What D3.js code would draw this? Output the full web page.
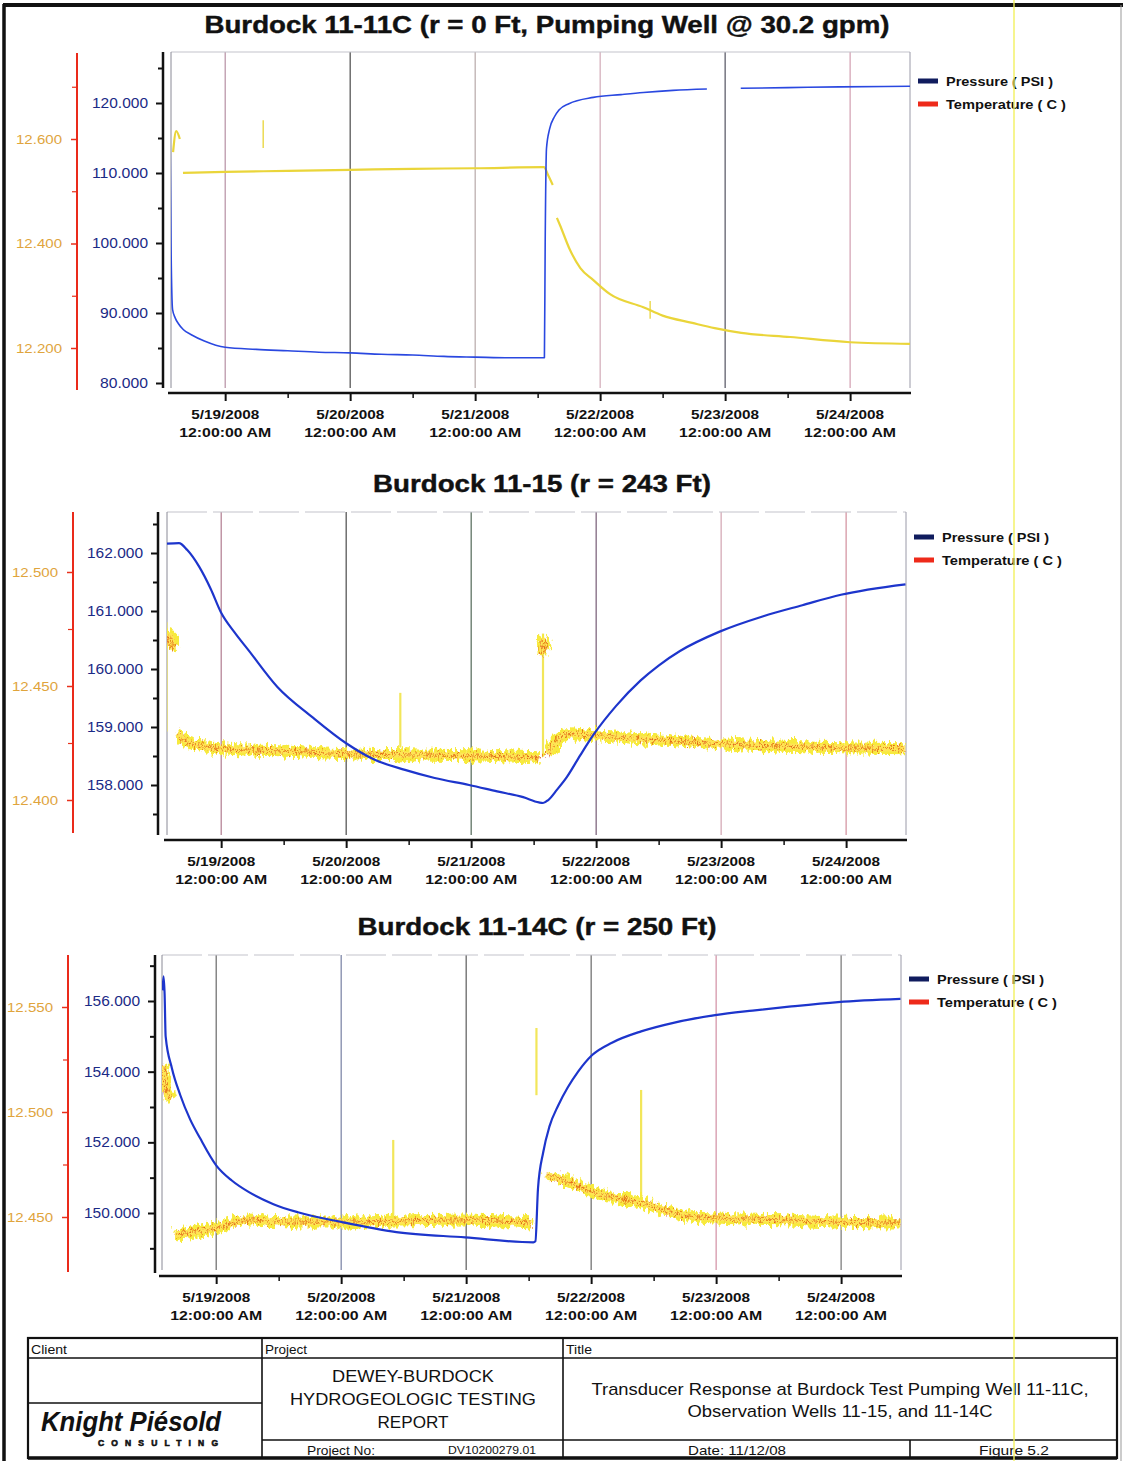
<!DOCTYPE html>
<html><head><meta charset="utf-8">
<script src="https://cdn.jsdelivr.net/npm/d3@7"></script>
<style>
html,body{margin:0;padding:0;background:#fff;}
svg{display:block;}
text{font-family:"Liberation Sans",Arial,Helvetica,sans-serif;}
</style></head><body>
<svg id="c" width="1123" height="1461"></svg>
<script>
// ---------------- DATA ----------------
// time is in hours after 5/18/2008 12:00:00 AM
const chartTitles = [
  "Burdock 11-11C (r = 0 Ft, Pumping Well @ 30.2 gpm)",
  "Burdock 11-15 (r = 243 Ft)",
  "Burdock 11-14C (r = 250 Ft)"
];
const legendLabels = ["Pressure ( PSI )", "Temperature ( C )"];
const dateLabels = ["5/19/2008","5/20/2008","5/21/2008","5/22/2008","5/23/2008","5/24/2008"];
const timeLabel = "12:00:00 AM";
const timeDomainHours = [13.6, 155.5];

// Chart 1: Burdock 11-11C
const pTicks1 = [80, 90, 100, 110, 120];
const pMinor1 = [85, 95, 105, 115, 125];
const tTicks1 = [12.2, 12.4, 12.6];
const tMinor1 = [12.3, 12.5, 12.7];
const pressure1 = [[13.3,127.5],[13.6,100.0],[13.9,90.5],[14.4,89.3],[15.0,88.5],[16.0,87.6],[17.5,86.9],[20.0,86.0],[24,85.1],[30,84.8],[36,84.6],[42,84.4],[48,84.3],[54,84.1],[60,84.0],[66,83.8],[72,83.7],[79,83.6],[85.3,83.6],[85.45,100],[85.7,113.5],[86.3,116.3],[87.2,118.0],[88.1,119.0],[90,119.9],[94.7,120.8],[100,121.2],[104.3,121.5],[110,121.8],[116.5,122.0],[117,null],[123,122.1],[132,122.2],[142,122.3],[155.5,122.4]];
const temperature1 = [[14.0,12.575],[14.6,12.615],[15.3,12.600],[15.4,null],[15.9,12.535],[24,12.537],[36,12.539],[48,12.541],[60,12.543],[72,12.544],[85.2,12.546],[86.0,12.531],[86.9,12.512],[87.2,null],[87.7,12.449],[88.3,12.435],[90.2,12.388],[92.2,12.353],[94.7,12.330],[97.9,12.303],[104.3,12.278],[108,12.262],[113.7,12.248],[118,12.238],[123.1,12.229],[132.5,12.221],[144,12.211],[155.5,12.208]];
const spikes1 = [[31.3,12.583,12.636],[105.6,12.256,12.290]];

// Chart 2: Burdock 11-15
const pTicks2 = [158, 159, 160, 161, 162];
const pMinor2 = [157.5, 158.5, 159.5, 160.5, 161.5, 162.5];
const tTicks2 = [12.40, 12.45, 12.50];
const tMinor2 = [12.425, 12.475];
const pressure2 = [[13.6,162.16],[15.9,162.17],[17.5,162.05],[19.8,161.76],[22,161.38],[24,160.97],[26.5,160.64],[29.2,160.33],[34.8,159.69],[41.5,159.17],[48,158.72],[53.6,158.43],[59.3,158.26],[65,158.12],[71.6,158.0],[77,157.89],[82,157.79],[85.0,157.70],[85.8,157.69],[86.8,157.74],[88.5,157.92],[90.4,158.14],[93,158.52],[95.6,158.88],[99.8,159.36],[104.5,159.80],[108,160.06],[112.1,160.31],[119.6,160.64],[128.1,160.91],[135.6,161.10],[143,161.28],[155.4,161.46]];
const temperature2 = [[13.7,12.468],[14.2,12.472],[14.7,12.466],[15.0,null],[15.6,12.4291],[17.5,12.4255],[19.8,12.4238],[24,12.4225],[36,12.4215],[48,12.4203],[60,12.4198],[72,12.4194],[85.0,12.4185],[85.3,null],[85.6,12.464],[85.9,12.470],[86.2,12.466],[86.4,null],[86.8,12.4200],[87.1,12.4216],[88.5,12.4260],[90.4,12.4291],[96,12.4282],[104.5,12.4269],[119.5,12.4247],[143,12.4229],[155.4,12.4225]];
const spikes2 = [[85.8,12.419,12.473],[58.4,12.423,12.447],[13.5,12.430,12.478]];

// Chart 3: Burdock 11-14C
const pTicks3 = [150, 152, 154, 156];
const pMinor3 = [149, 151, 153, 155, 157];
const tTicks3 = [12.45, 12.50, 12.55];
const tMinor3 = [12.475, 12.525];
const pressure3 = [[13.7,156.3],[13.9,156.7],[14.1,156.2],[14.3,155.0],[15.5,154.1],[17.1,153.34],[19,152.65],[20.9,152.12],[24,151.35],[27,150.92],[30.3,150.59],[35,150.25],[39.7,150.02],[48.2,149.74],[58.6,149.46],[71.8,149.31],[84.9,149.17],[85.3,149.2],[85.8,150.70],[86.8,151.72],[88,152.45],[89.7,153.05],[91.5,153.55],[93.5,154.00],[96.2,154.47],[100,154.82],[105.6,155.14],[112,155.39],[119.8,155.60],[127,155.73],[134,155.84],[143.4,155.97],[155.4,156.06]];
const temperature3 = [[13.7,12.522],[14.3,12.512],[15.0,12.506],[15.3,null],[16.1,12.4414],[20,12.4430],[24,12.4448],[30.3,12.4486],[35,12.4478],[39.7,12.4476],[49.2,12.4476],[58.6,12.4481],[71.8,12.4486],[84.5,12.4471],[84.9,null],[87.4,12.470],[91.6,12.4667],[96.2,12.4619],[105.6,12.4567],[113.3,12.4510],[119.8,12.4495],[134,12.4486],[143.4,12.4476],[155.4,12.4471]];
const spikes3 = [[58.0,12.4467,12.4867],[105.6,12.4557,12.5105],[85.5,12.508,12.540]];

// title block text
const blockHeaders = ["Client", "Project", "Title"];
const projectLines = ["DEWEY-BURDOCK", "HYDROGEOLOGIC TESTING", "REPORT"];
const titleLines = ["Transducer Response at Burdock Test Pumping Well 11-11C,", "Observation Wells 11-15, and 11-14C"];
const projectNo = ["Project No:", "DV10200279.01"];
const dateText = "Date: 11/12/08";
const figureText = "Figure 5.2";

// ---------------- LAYOUT / STYLE ----------------
const layout = [
  {top:52, bottom:388, left:171, right:910, axisY:393, pAxisX:163, tAxisX:77, pPix:[383,103], tPix:[348,139],
   axTop:52, axBot:388, taxTop:53, taxBot:390, titleY:33, titleX:547, titleW:685, legendY:81, noisy:false,
   grid:["#a87890","#262626","#a89898","#c898a8","#303040","#c88aa0"]},
  {top:512, bottom:835, left:167, right:906, axisY:840, pAxisX:158, tAxisX:73, pPix:[785,553], tPix:[800,572],
   axTop:512, axBot:835, taxTop:512, taxBot:833, titleY:492, titleX:542, titleW:338, legendY:537, noisy:true,
   grid:["#a06078","#262626","#2f4a36","#5a3a58","#c890a0","#c87888"]},
  {top:955, bottom:1270, left:162, right:901, axisY:1276, pAxisX:155, tAxisX:68, pPix:[1213,1001], tPix:[1217,1007],
   axTop:955, axBot:1273, taxTop:955, taxBot:1272, titleY:935, titleX:537, titleW:359, legendY:979, noisy:true,
   grid:["#4a4a4a","#5a6690","#3a3a3a","#4a4a4a","#c87890","#585858"]}
];
const data = [
  {p:pressure1, t:temperature1, s:spikes1, pT:pTicks1, pM:pMinor1, tT:tTicks1, tM:tMinor1},
  {p:pressure2, t:temperature2, s:spikes2, pT:pTicks2, pM:pMinor2, tT:tTicks2, tM:tMinor2},
  {p:pressure3, t:temperature3, s:spikes3, pT:pTicks3, pM:pMinor3, tT:tTicks3, tM:tMinor3}
];

const base = new Date(2008, 4, 18, 0, 0, 0);
const toDate = h => new Date(base.getTime() + h * 3600000);

const svg = d3.select("#c");
svg.append("rect").attr("width",1123).attr("height",1461).attr("fill","#fff");

const defs = svg.append("defs");
function noiseFilter(id, freq, seed, scale){
  const f = defs.append("filter").attr("id", id).attr("filterUnits","userSpaceOnUse")
    .attr("x",0).attr("y",0).attr("width",1123).attr("height",1461);
  f.append("feTurbulence").attr("type","fractalNoise").attr("baseFrequency",freq)
    .attr("numOctaves",2).attr("seed",seed).attr("result","n");
  f.append("feDisplacementMap").attr("in","SourceGraphic").attr("in2","n")
    .attr("scale",scale).attr("xChannelSelector","R").attr("yChannelSelector","G");
}
noiseFilter("nzY", "0.35 0.09", 3, 14);
noiseFilter("nzO", "0.55 0.12", 7, 18);
noiseFilter("nzR", "0.6 0.15", 11, 16);

// page frame
svg.append("line").attr("x1",4).attr("x2",4).attr("y1",4).attr("y2",1461).attr("stroke","#111").attr("stroke-width",3.5);
svg.append("line").attr("x1",3).attr("x2",1123).attr("y1",5).attr("y2",5).attr("stroke","#111").attr("stroke-width",4);
svg.append("line").attr("x1",1121).attr("x2",1121).attr("y1",5).attr("y2",1461).attr("stroke","#999").attr("stroke-width",1);

const fmt3 = d3.format(".3f");

layout.forEach((L, i) => {
  const D = data[i];
  const g = svg.append("g");
  const x = d3.scaleTime().domain(timeDomainHours.map(toDate)).range([L.left, L.right]);
  const yP = d3.scaleLinear().domain([D.pT[0], D.pT[D.pT.length-1]]).range(L.pPix);
  const yT = d3.scaleLinear().domain([D.tT[0], D.tT[D.tT.length-1]]).range(L.tPix);

  // title
  g.append("text").attr("x", L.titleX).attr("y", L.titleY).attr("text-anchor","middle")
    .attr("font-size",23).attr("font-weight","bold").attr("fill","#111")
    .attr("stroke","#111").attr("stroke-width",0.4)
    .attr("textLength", L.titleW).attr("lengthAdjust","spacingAndGlyphs").text(chartTitles[i]);

  // clip
  const cid = "clip" + i;
  defs.append("clipPath").attr("id", cid).append("rect")
    .attr("x", L.left).attr("y", L.top).attr("width", L.right - L.left).attr("height", L.bottom - L.top);

  // grid lines (day boundaries)
  const days = d3.timeDay.range(x.domain()[0], x.domain()[1]).filter(d => d > x.domain()[0]);
  g.selectAll(".grid").data(days).join("line")
    .attr("x1", d => x(d)).attr("x2", d => x(d)).attr("y1", L.top).attr("y2", L.bottom)
    .attr("stroke", (d, k) => L.grid[k % L.grid.length]).attr("stroke-width", 1);

  // frame
  g.append("line").attr("x1",L.left).attr("x2",L.right).attr("y1",L.top).attr("y2",L.top)
    .attr("stroke","#c4c4cc").attr("stroke-width",1.2).attr("stroke-dasharray", L.noisy ? "40 6" : null);
  g.append("line").attr("x1",L.right).attr("x2",L.right).attr("y1",L.top).attr("y2",L.bottom)
    .attr("stroke","#9a9aa8").attr("stroke-width",1);
  g.append("line").attr("x1",L.left).attr("x2",L.left).attr("y1",L.top).attr("y2",L.bottom)
    .attr("stroke","#8a8a96").attr("stroke-width",1);

  const plot = g.append("g").attr("clip-path", `url(#${cid})`);
  const lineT = d3.line().defined(d => d[1] != null).x(d => x(toDate(d[0]))).y(d => yT(d[1])).curve(d3.curveMonotoneX);
  const lineP = d3.line().defined(d => d[1] != null).x(d => x(toDate(d[0]))).y(d => yP(d[1])).curve(d3.curveMonotoneX);

  // spikes (short transient temperature readings)
  plot.selectAll(".spk").data(D.s).join("line")
    .attr("x1", d => x(toDate(d[0]))).attr("x2", d => x(toDate(d[0])))
    .attr("y1", d => yT(d[1])).attr("y2", d => yT(d[2]))
    .attr("stroke", L.noisy ? "#f2e65a" : "#e8d438").attr("stroke-width", L.noisy ? 2.2 : 1.3);

  // temperature
  if (L.noisy) {
    plot.append("path").datum(D.t).attr("d", lineT).attr("fill","none")
      .attr("stroke","#f7ea3c").attr("stroke-width",11).attr("stroke-linejoin","round").attr("filter","url(#nzY)");
    plot.append("path").datum(D.t).attr("d", lineT).attr("fill","none")
      .attr("stroke","#ffe35a").attr("stroke-width",6).attr("opacity",0.8);
    plot.append("path").datum(D.t).attr("d", lineT).attr("fill","none")
      .attr("stroke","#e98a1e").attr("stroke-width",1.3).attr("filter","url(#nzO)");
    plot.append("path").datum(D.t).attr("d", lineT).attr("fill","none")
      .attr("stroke","#d8361a").attr("stroke-width",0.9).attr("opacity",0.55).attr("filter","url(#nzR)");
  } else {
    plot.append("path").datum(D.t).attr("d", lineT).attr("fill","none")
      .attr("stroke","#ead53a").attr("stroke-width",2.2);
  }

  // pressure
  plot.append("path").datum(D.p).attr("d", lineP).attr("fill","none")
    .attr("stroke", L.noisy ? "#1d35cc" : "#2a48e0").attr("stroke-width", L.noisy ? 2.2 : 1.6)
    .attr("stroke-linejoin","round");

  // pressure axis
  const pa = g.append("g").attr("transform", `translate(${L.pAxisX},0)`);
  pa.call(d3.axisLeft(yP).tickValues(D.pT).tickFormat(fmt3).tickSize(7).tickPadding(8).tickSizeOuter(0));
  pa.select(".domain").remove();
  pa.selectAll(".tick line").attr("stroke","#111").attr("stroke-width",2);
  pa.selectAll(".tick text").attr("fill","#1b2a86").attr("font-size",14)
    .attr("font-family","'Liberation Sans',Arial,sans-serif")
    .attr("textLength", d => fmt3(d).length > 6 ? 56 : 48).attr("lengthAdjust","spacingAndGlyphs");
  const pm = g.append("g").attr("transform", `translate(${L.pAxisX},0)`);
  pm.call(d3.axisLeft(yP).tickValues(D.pM.filter(v => yP(v) >= L.axTop && yP(v) <= L.axBot)).tickFormat("").tickSize(5).tickSizeOuter(0));
  pm.select(".domain").remove();
  pm.selectAll(".tick line").attr("stroke","#111").attr("stroke-width",2);
  g.append("line").attr("x1",L.pAxisX).attr("x2",L.pAxisX).attr("y1",L.axTop).attr("y2",L.axBot)
    .attr("stroke","#111").attr("stroke-width",2.5);

  // temperature axis
  const ta = g.append("g").attr("transform", `translate(${L.tAxisX},0)`);
  ta.call(d3.axisLeft(yT).tickValues(D.tT).tickFormat(fmt3).tickSize(6).tickPadding(9).tickSizeOuter(0));
  ta.select(".domain").remove();
  ta.selectAll(".tick line").attr("stroke","#e8321c").attr("stroke-width",1.5);
  ta.selectAll(".tick text").attr("fill","#e0a43c").attr("font-size",13)
    .attr("font-family","'Liberation Sans',Arial,sans-serif")
    .attr("textLength", 46).attr("lengthAdjust","spacingAndGlyphs");
  const tm = g.append("g").attr("transform", `translate(${L.tAxisX},0)`);
  tm.call(d3.axisLeft(yT).tickValues(D.tM.filter(v => yT(v) >= L.taxTop && yT(v) <= L.taxBot)).tickFormat("").tickSize(5).tickSizeOuter(0));
  tm.select(".domain").remove();
  tm.selectAll(".tick line").attr("stroke","#e8321c").attr("stroke-width",1.2);
  g.append("line").attr("x1",L.tAxisX).attr("x2",L.tAxisX).attr("y1",L.taxTop).attr("y2",L.taxBot)
    .attr("stroke","#ea2a1a").attr("stroke-width",2);

  // x axis
  const xa = g.append("g").attr("transform", `translate(0,${L.axisY})`);
  const halfDays = d3.timeHour.every(12).range(x.domain()[0], x.domain()[1]);
  xa.call(d3.axisBottom(x).tickValues(halfDays.filter(d => d.getHours() === 12)).tickFormat("").tickSize(5).tickSizeOuter(0));
  xa.select(".domain").remove();
  xa.selectAll(".tick line").attr("stroke","#111").attr("stroke-width",1.5);
  const xb = g.append("g").attr("transform", `translate(0,${L.axisY})`);
  xb.call(d3.axisBottom(x).tickValues(days).tickFormat("").tickSize(8).tickSizeOuter(0));
  xb.select(".domain").remove();
  xb.selectAll(".tick line").attr("stroke","#111").attr("stroke-width",2);
  g.append("line").attr("x1",L.left - 3).attr("x2",L.right + 1).attr("y1",L.axisY).attr("y2",L.axisY)
    .attr("stroke","#111").attr("stroke-width",2.5);
  const lbl = g.selectAll(".xl").data(days).join("text")
    .attr("text-anchor","middle").attr("font-weight","bold").attr("fill","#111").attr("font-size",13);
  lbl.append("tspan").attr("x", d => x(d)).attr("y", L.axisY + 26)
    .attr("textLength", 68).attr("lengthAdjust","spacingAndGlyphs").text((d, k) => dateLabels[k]);
  lbl.append("tspan").attr("x", d => x(d)).attr("y", L.axisY + 44)
    .attr("textLength", 92).attr("lengthAdjust","spacingAndGlyphs").text(timeLabel);

  // legend
  const lg = g.append("g").attr("transform", `translate(${L.right + 8},${L.legendY})`);
  const swatch = ["#101c5e", "#ee2a1a"];
  legendLabels.forEach((t, k) => {
    lg.append("rect").attr("x",0).attr("y", k*23 - 2.5).attr("width",20).attr("height",5).attr("fill", swatch[k]);
    lg.append("text").attr("x",28).attr("y", k*23 + 5).attr("font-size",13).attr("font-weight","bold")
      .attr("fill","#111").attr("textLength", k ? 120 : 107).attr("lengthAdjust","spacingAndGlyphs").text(t);
  });
});

// ---------------- TITLE BLOCK ----------------
const tb = svg.append("g");
const bx0 = 28, bx1 = 1117, by0 = 1338, by1 = 1458, cx1 = 262, cx2 = 563;
tb.append("rect").attr("x",bx0).attr("y",by0).attr("width",bx1-bx0).attr("height",by1-by0)
  .attr("fill","none").attr("stroke","#111").attr("stroke-width",2.2);
tb.append("line").attr("x1",bx0).attr("x2",bx1).attr("y1",by1).attr("y2",by1).attr("stroke","#111").attr("stroke-width",3.5);
const seg = (x1,y1,x2,y2,w) => tb.append("line").attr("x1",x1).attr("y1",y1).attr("x2",x2).attr("y2",y2).attr("stroke","#111").attr("stroke-width",w||1.6);
seg(bx0,1358,bx1,1358);
seg(cx1,by0,cx1,by1);
seg(cx2,by0,cx2,by1);
seg(bx0,1403,cx1,1403);
seg(cx1,1440,bx1,1440);
seg(910,1440,910,by1);
[bx0, cx1, cx2].forEach((xx, k) => {
  tb.append("text").attr("x", xx + 3).attr("y", 1354).attr("font-size",12).attr("fill","#111")
    .attr("textLength", [36,42,26][k]).attr("lengthAdjust","spacingAndGlyphs").text(blockHeaders[k]);
});
projectLines.forEach((t, k) => {
  tb.append("text").attr("x", 413).attr("y", 1382 + k*23).attr("text-anchor","middle").attr("font-size",17)
    .attr("fill","#111").attr("textLength", [162,246,71][k]).attr("lengthAdjust","spacingAndGlyphs").text(t);
});
titleLines.forEach((t, k) => {
  tb.append("text").attr("x", 840).attr("y", 1395 + k*22).attr("text-anchor","middle").attr("font-size",17)
    .attr("fill","#111").attr("textLength", [497,305][k]).attr("lengthAdjust","spacingAndGlyphs").text(t);
});
tb.append("text").attr("x",307).attr("y",1455).attr("font-size",12).attr("fill","#111")
  .attr("textLength",68).attr("lengthAdjust","spacingAndGlyphs").text(projectNo[0]);
tb.append("text").attr("x",448).attr("y",1454).attr("font-size",10).attr("fill","#111")
  .attr("textLength",88).attr("lengthAdjust","spacingAndGlyphs").text(projectNo[1]);
tb.append("text").attr("x",737).attr("y",1455).attr("text-anchor","middle").attr("font-size",13).attr("fill","#111")
  .attr("textLength",98).attr("lengthAdjust","spacingAndGlyphs").text(dateText);
tb.append("text").attr("x",1014).attr("y",1455).attr("text-anchor","middle").attr("font-size",13).attr("fill","#111")
  .attr("textLength",70).attr("lengthAdjust","spacingAndGlyphs").text(figureText);
// logo
tb.append("text").attr("x",41).attr("y",1431).attr("font-family","'Liberation Serif','Times New Roman',serif")
  .attr("font-size",27).attr("font-weight","bold").attr("font-style","italic").attr("fill","#111")
  .attr("textLength",180).attr("lengthAdjust","spacingAndGlyphs").text("Knight Piésold");
tb.append("text").attr("x",98).attr("y",1446).attr("font-size",8.5).attr("font-weight","bold").attr("fill","#111")
  .attr("stroke","#111").attr("stroke-width",0.6)
  .attr("textLength",120).attr("lengthAdjust","spacing").text("CONSULTING");

// scan artefact line
svg.append("line").attr("x1",1014).attr("x2",1014).attr("y1",0).attr("y2",1461)
  .attr("stroke","#f2f05a").attr("stroke-width",1.5).attr("opacity",0.9);
</script>
</body></html>
